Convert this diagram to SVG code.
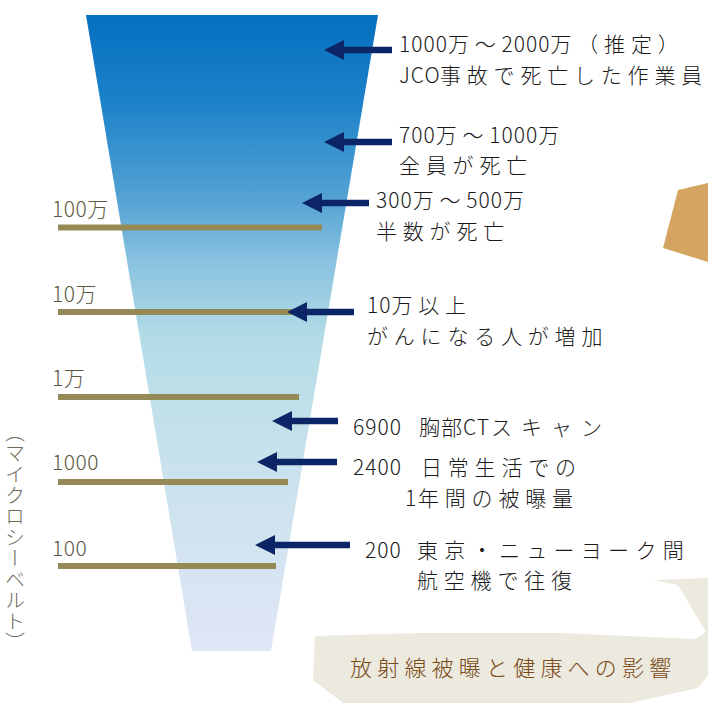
<svg xmlns="http://www.w3.org/2000/svg" width="708" height="703" viewBox="0 0 708 703">
<defs>
<linearGradient id="cone" x1="0" y1="15" x2="0" y2="651" gradientUnits="userSpaceOnUse">
<stop offset="0" stop-color="#0570c0"/>
<stop offset="0.13" stop-color="#1a80c8"/>
<stop offset="0.29" stop-color="#55a3d4"/>
<stop offset="0.385" stop-color="#88c1df"/>
<stop offset="0.5" stop-color="#b1dbe6"/>
<stop offset="0.64" stop-color="#c3e1eb"/>
<stop offset="0.8" stop-color="#d0e3ef"/>
<stop offset="1" stop-color="#e0e6f6"/>
</linearGradient>
<marker id="ah" viewBox="0 0 20 20" markerWidth="20" markerHeight="20" refX="1" refY="10" orient="auto" markerUnits="userSpaceOnUse">
<path d="M0,0 L20,10 L0,20 Z" fill="#0c2566"/>
</marker>
<style>
.t{font-family:"Noto Sans CJK JP",sans-serif;font-size:21px;fill:#1a1a1a;font-weight:300;letter-spacing:1px}
.w{letter-spacing:5.8px}
.k{letter-spacing:9px}
.lab{font-family:"Noto Sans CJK JP",sans-serif;font-size:21px;fill:#5b5741;font-weight:300;letter-spacing:0.5px}
.bar{fill:#958a55}
.arr{stroke:#0c2566;stroke-width:6.5;fill:none;marker-end:url(#ah)}
.ttl{font-family:"Noto Sans CJK JP",sans-serif;font-size:22px;fill:#7a4a17;letter-spacing:5.2px;font-weight:300}
.ax{font-family:"Noto Sans CJK JP",sans-serif;font-size:20px;fill:#6e6a58;writing-mode:vertical-rl;letter-spacing:1px;font-weight:300}
</style>
</defs>
<rect width="708" height="703" fill="#ffffff"/>

<g id="cone-shape">
<polygon points="86,15 378,15 271,651 192,651" fill="url(#cone)"/>
</g>

<g id="scale-bars">
<rect class="bar" x="58" y="224.5" width="264" height="6"/>
<rect class="bar" x="58" y="309" width="240" height="6"/>
<rect class="bar" x="58" y="394" width="241" height="6"/>
<rect class="bar" x="58" y="479" width="230" height="6"/>
<rect class="bar" x="58" y="563" width="218" height="6"/>
</g>

<g id="scale-labels">
<text class="lab" x="52" y="217">100万</text>
<text class="lab" x="52" y="302">10万</text>
<text class="lab" x="52" y="386">1万</text>
<text class="lab" x="52" y="470">1000</text>
<text class="lab" x="52" y="556">100</text>
</g>

<g id="axis-label">
<text class="ax" x="15" y="422">（マイクロシーベルト）</text>
</g>

<g id="connectors">
<line class="arr" x1="392" y1="50" x2="343" y2="50"/>
<line class="arr" x1="392" y1="142" x2="343" y2="142"/>
<line class="arr" x1="369" y1="203" x2="321" y2="203"/>
<line class="arr" x1="354" y1="312" x2="306" y2="312"/>
<line class="arr" x1="338" y1="421" x2="291" y2="421"/>
<line class="arr" x1="337" y1="462" x2="276" y2="462"/>
<line class="arr" x1="350" y1="545" x2="274" y2="545"/>
</g>

<g id="n-1000man">
<text class="t" x="399" y="52">1000<tspan class="w">万～</tspan>2000<tspan class="w">万（推定）</tspan></text>
<text class="t" x="399" y="83">JCO<tspan class="w" x="440">事故で死亡した作業員</tspan></text>
</g>
<g id="n-700man">
<text class="t" x="399" y="143">700<tspan class="w">万～</tspan>1000<tspan class="w">万</tspan></text>
<text class="t w" x="399" y="173">全員が死亡</text>
</g>
<g id="n-300man">
<text class="t" x="376" y="208">300<tspan class="w">万～</tspan>500<tspan class="w">万</tspan></text>
<text class="t w" x="376" y="239">半数が死亡</text>
</g>
<g id="n-10man">
<text class="t" x="367" y="313">10<tspan class="w">万以上</tspan></text>
<text class="t w" x="367" y="344">がんになる人が増加</text>
</g>
<g id="n-6900">
<text class="t" x="353" y="435">6900 <tspan x="419">胸部</tspan>CT<tspan class="k" x="491">スキャン</tspan></text>
</g>
<g id="n-2400">
<text class="t" x="353" y="475">2400 <tspan class="w" x="421">日常生活での</tspan></text>
<text class="t" x="405" y="506">1<tspan class="w" x="418">年間の被曝量</tspan></text>
</g>
<g id="n-200">
<text class="t" x="365" y="558">200 <tspan class="w" x="417" style="letter-spacing:6.3px">東京・ニューヨーク間</tspan></text>
<text class="t w" x="417" y="588">航空機で往復</text>
</g>

<g id="side-tab">
<polygon points="678,190 708,183 708,262 663,248" fill="#d4a560"/>
</g>

<g id="title-callout">
<polygon points="315,636 420,633 560,633 695,639 706,632 678,585 653,580 708,578 708,675 698,688 630,703 343,703 313,680" fill="#ece9de"/>
<text class="ttl" x="350" y="676">放射線被曝と健康への影響</text>
</g>
</svg>
